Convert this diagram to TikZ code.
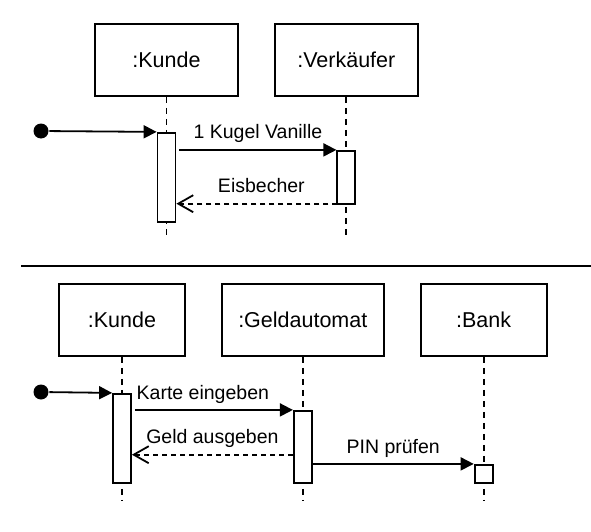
\documentclass[tikz,border=0pt]{standalone}
\usepackage{fontspec}
\setmainfont{Liberation Sans}
\usetikzlibrary{positioning,arrows.meta}

\begin{document}
\begin{tikzpicture}[x=1pt,y=-1pt,line width=1.8pt,obj/.style={draw,minimum height=72pt,inner sep=0pt,font=\fontsize{21.5}{25}\selectfont},act/.style={draw,fill=white,minimum width=18pt,inner sep=0pt},start/.style={circle,fill=black,inner sep=0pt,minimum size=15pt},life/.style={dash pattern=on 6pt off 5pt},msg/.style={-{Triangle[length=13pt,width=13pt]}},ret/.style={dash pattern=on 5pt off 4pt,-{Straight Barb[length=15pt,width=17pt]}},lbl/.style={inner sep=0pt,text height=14pt,text depth=4pt,font=\fontsize{19.5}{22}\selectfont}]
		\useasboundingbox (0,0) rectangle (591,532);

		\node[obj,minimum width=143pt]								(kunde1)	at (166.5,60)	{:Kunde};
		\node[obj,minimum width=143pt,node distance=35pt,right=of kunde1]	(verk)		{:Verkäufer};
		\coordinate (endk1) at (kunde1 |- 0,238);
		\coordinate (endv) at (verk |- 0,238);
		\draw[life] (kunde1) -- (endk1);
		\draw[life] (verk) -- (endv);
		\node[act,minimum height=89pt,node distance=35pt,below=of kunde1]	(akunde1)	{};
		\node[act,minimum height=53pt,node distance=53pt,below=of verk]		(averk)		{};
		\node[start]												(dot1)		at (41,131)		{};

		\draw[msg] (dot1) -- (akunde1.north west);
		\draw[msg] ([xshift=3pt]akunde1.east |- averk.north) -- (averk.north west) node[lbl,midway,above=6pt] {1 Kugel Vanille};
		\draw[ret] ([yshift=1pt]averk.south) -- ([yshift=1pt]averk.south -| akunde1.east) node[lbl,midway,above=6pt] {Eisbecher};

		\draw (21,266) -- (591,266);

		\node[obj,minimum width=126pt]								(kunde2)	at (122,320)	{:Kunde};
		\node[obj,minimum width=162pt,node distance=35pt,right=of kunde2]	(geld)		{:Geldautomat};
		\node[obj,minimum width=126pt,node distance=35pt,right=of geld]		(bank)		{:Bank};
		\coordinate (endk2) at (kunde2 |- 0,500);
		\coordinate (endg) at (geld |- 0,500);
		\coordinate (endb) at (bank |- 0,500);
		\draw[life] (kunde2) -- (endk2);
		\draw[life] (geld) -- (endg);
		\draw[life] (bank) -- (endb);
		\node[act,minimum height=89pt,node distance=36pt,below=of kunde2]	(akunde2)	{};
		\node[act,minimum height=72pt,node distance=53pt,below=of geld]		(ageld)		{};
		\node[act,minimum height=18pt,node distance=107pt,below=of bank]	(abank)		{};
		\node[start]												(dot2)		at (41,392)		{};

		\draw[msg] (dot2) -- (akunde2.north west);
		\draw[msg] ([xshift=3pt]akunde2.east |- ageld.north) -- (ageld.north west) node[lbl,pos=0.43,above=6pt] {Karte eingeben};
		\draw[ret] ([yshift=29pt]ageld.south west) -- ([yshift=29pt]ageld.south west -| akunde2.east) node[lbl,midway,above=6pt] {Geld ausgeben};
		\draw[msg] (ageld.east |- abank.north) -- (abank.north west) node[lbl,midway,above=6pt] {PIN prüfen};
	\end{tikzpicture}
\end{document}
